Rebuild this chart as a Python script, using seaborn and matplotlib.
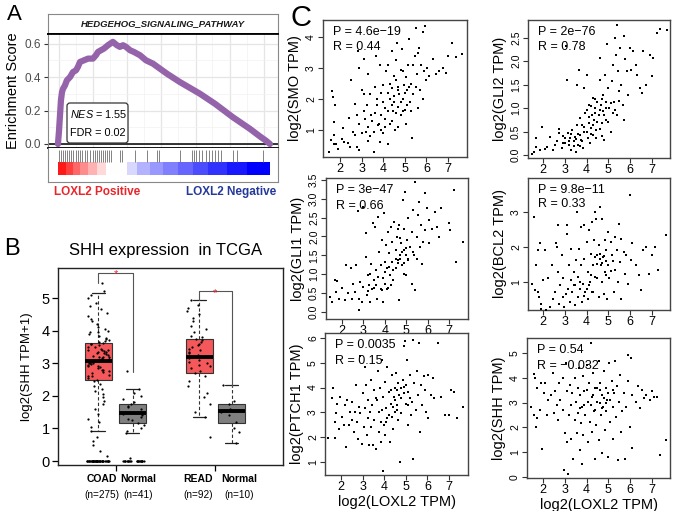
import numpy as np
import pandas as pd
import matplotlib
matplotlib.use("Agg")
import matplotlib.pyplot as plt
import seaborn as sns
from matplotlib.patches import FancyBboxPatch
import matplotlib.transforms as mtrans

# ---------------- DATA ----------------
# Panel A: GSEA running enrichment score (rank in % of ranked list)
es_rank = [0, 0.5, 0.9, 1.4, 1.9, 2.4, 3.3, 4.2, 5.7, 7.1, 8.5, 9.4, 10.4, 12.3, 14.2,
           16.5, 17.9, 18.9, 20.3, 21.7, 23.6, 25.9, 27.8, 29.2, 30.7, 32.1, 34.0,
           35.8, 38.7, 41.5, 44.8, 51.4, 57.5, 67.0, 74.1, 82.5, 90.6, 95.3, 98.1, 100]
es_score = [0.0, 0.08, 0.16, 0.26, 0.31, 0.33, 0.35, 0.38, 0.40, 0.43, 0.44, 0.46, 0.49,
            0.50, 0.51, 0.51, 0.53, 0.55, 0.56, 0.57, 0.59, 0.61, 0.59, 0.58, 0.59, 0.58,
            0.56, 0.55, 0.53, 0.50, 0.48, 0.42, 0.37, 0.30, 0.24, 0.16, 0.09, 0.045, 0.02, 0.0]
hit_rank = [0.5, 1.4, 2.4, 3.3, 4.2, 5.2, 6.1, 7.1, 8.5, 9.4, 10.4, 11.3, 12.7, 13.7, 15.1,
            16.5, 17.5, 18.4, 19.3, 20.3, 21.2, 22.2, 23.1, 24.1, 25.0, 29.2, 30.2, 36.3,
            42.0, 46.7, 47.6, 57.5, 63.2, 64.2, 65.1, 66.5, 67.9, 69.8, 71.2, 72.6, 74.1,
            75.5, 76.9, 82.5, 84.4, 96.7]
bar_edges = [0, 4, 7.2, 10.4, 14.3, 18.2, 22.6, 32.4, 37.1, 43.4, 49.7, 56.8, 63.8, 70.9,
             79.6, 89, 100]
bar_vals = [0.9, 0.75, 0.6, 0.45, 0.3, 0.15, 0.0, -0.15, -0.3, -0.4, -0.5, -0.6, -0.7,
            -0.8, -0.9, -1.0]
gsea_title = "HEDGEHOG_SIGNALING_PATHWAY"
nes_txt = "1.55"
fdr_txt = "0.02"

# Panel B: SHH expression box stats
box_groups = ["COAD", "COAD_N", "READ", "READ_N"]
box_labels = ["COAD", "Normal", "READ", "Normal"]
box_n = ["(n=275)", "(n=41)", "(n=92)", "(n=10)"]
box_whislo = [0.92, 0.86, 1.36, 0.54]
box_q1 = [2.50, 1.18, 2.69, 1.17]
box_med = [3.08, 1.48, 3.20, 1.53]
box_q3 = [3.62, 1.74, 3.74, 1.74]
box_whishi = [5.15, 2.21, 4.93, 2.32]

coad_vals = [0.0] * 45 + [0.15, 0.32, 0.5, 0.62, 0.75, 0.92, 1.05, 1.2, 1.3, 1.45, 1.6,
             1.75, 1.85, 1.95, 2.05, 2.15, 2.2, 2.3, 2.35, 2.45, 2.5, 2.55, 2.6, 2.65,
             2.7, 2.72, 2.78, 2.8, 2.85, 2.88, 2.92, 2.95, 2.98, 3.0, 3.02, 3.05, 3.08,
             3.1, 3.12, 3.15, 3.18, 3.2, 3.22, 3.25, 3.28, 3.3, 3.33, 3.35, 3.38, 3.4,
             3.42, 3.45, 3.5, 3.55, 3.58, 3.6, 3.62, 3.68, 3.72, 3.78, 3.85, 3.9, 3.95,
             4.0, 4.05, 4.12, 4.2, 4.28, 4.35, 4.45, 4.55, 4.65, 4.75, 4.85, 5.0, 5.1,
             5.2, 5.45, 2.9, 3.0, 3.1, 3.2, 3.3, 3.4, 3.5, 2.6, 2.75, 3.65, 3.75, 3.95]
coadn_vals = [0.0] * 22 + [0.08, 0.87, 0.92, 1.0, 1.1, 1.18, 1.25, 1.3, 1.35, 1.4, 1.45,
              1.5, 1.52, 1.6, 1.65, 1.7, 1.75, 1.8, 1.9, 2.0, 2.1, 2.2, 2.75]
read_vals = [0.75, 1.35, 1.5, 1.75, 1.95, 2.1, 2.3, 2.45, 2.6, 2.7, 2.75, 2.85, 2.9, 2.95,
             3.0, 3.05, 3.1, 3.15, 3.2, 3.25, 3.3, 3.35, 3.4, 3.45, 3.5, 3.55, 3.6, 3.65,
             3.7, 3.75, 3.8, 3.85, 3.95, 4.05, 4.15, 4.3, 4.4, 4.5, 4.6, 4.7, 4.8, 4.93]
readn_vals = [0.55, 0.9, 1.0, 1.2, 1.4, 1.5, 1.6, 1.75, 1.85, 2.32]

# Panel C: correlation scatter points (log2 LOXL2 TPM, log2 gene TPM)
smo_pts = [(1.5,0.3),(1.6,0.67),(1.7,0.55),(1.65,2.25),(1.66,2.05),(1.77,1.8),(1.7,1.25),
    (1.7,0.85),(1.8,0.55),(1.9,0.4),(2.1,0.7),(2.2,0.63),(2.15,1.05),(2.35,0.58),(2.45,0.45),
    (2.4,1.4),(2.5,2.6),(2.6,0.95),(2.7,0.85),(2.7,1.85),(2.8,1.5),(2.8,0.45),(2.9,3.0),
    (2.85,3.55),(2.9,0.35),(3.0,2.3),(3.1,2.15),(3.1,3.3),(3.2,0.95),(3.15,1.35),(3.25,1.8),
    (3.3,2.8),(3.3,0.65),(3.4,2.15),(3.45,1.5),(3.55,0.95),(3.55,0.3),(3.6,2.4),(3.65,3.4),
    (3.7,1.8),(3.75,1.15),(3.85,3.1),(3.85,0.6),(3.9,2.2),(3.9,1.5),(4.0,0.9),(4.0,2.45),
    (4.1,1.7),(4.1,1.35),(4.15,2.9),(4.2,3.1),(4.2,0.55),(4.3,2.0),(4.3,1.2),(4.4,3.55),
    (4.4,2.35),(4.45,1.6),(4.5,2.75),(4.5,1.9),(4.55,1.0),(4.6,3.25),(4.65,3.8),(4.7,2.4),
    (4.7,1.75),(4.75,2.15),(4.8,1.5),(4.8,2.95),(4.85,3.6),(4.9,2.0),(4.95,2.45),(5.0,1.65),
    (5.05,2.7),(5.05,1.2),(5.1,2.3),(5.15,3.1),(5.2,3.95),(5.25,1.9),(5.3,2.5),(5.35,0.75),
    (5.4,2.15),(5.45,3.4),(5.5,4.3),(5.55,2.8),(5.6,1.7),(5.65,3.65),(5.7,2.3),(5.75,3.1),
    (5.85,2.0),(5.9,2.9),(5.95,4.35),(5.85,4.15),(6.0,2.6),(6.05,3.0),(6.1,2.75),(6.3,3.3),
    (6.45,2.8),(6.6,2.9),(6.75,3.0),(6.9,2.85),(7.0,3.4),(7.2,3.8),(7.35,3.35),(7.65,3.45),
    (4.2,1.6),(4.4,1.8),(4.5,2.1),(4.6,1.55),(4.7,2.3),(4.8,1.9),(4.9,1.6),(5.0,2.2),
    (5.1,1.8),(4.3,2.5),(4.6,2.6),(3.8,1.2),(3.5,1.3),(3.9,1.0),(3.6,1.55),(3.3,1.1),
    (3.0,0.9),(3.1,1.6),(4.0,1.9),(4.2,2.2),(5.2,2.4),(5.3,1.6),(5.5,2.4),(4.4,1.3),
    (4.7,1.1),(3.7,2.0),(3.4,0.8),(2.9,1.2),(4.1,1.1),(4.9,2.9),(5.4,3.1),(5.6,3.5)]
gli2_pts = [(1.5,0.02),(1.6,0.07),(1.7,0.16),(1.7,0.36),(1.85,0.1),(1.95,0.59),(2.1,0.13),
    (2.2,0.18),(2.3,0.39),(2.45,0.11),(2.55,0.21),(2.65,0.29),(2.75,0.56),(2.75,0.46),
    (2.85,0.14),(2.9,0.25),(3.0,0.36),(3.05,2.33),(3.1,1.59),(3.15,0.46),(3.2,0.21),
    (3.25,0.36),(3.3,0.11),(3.35,0.54),(3.4,0.29),(3.45,0.39),(3.5,0.07),(3.55,1.5),
    (3.55,0.64),(3.6,0.21),(3.65,1.82),(3.7,0.43),(3.7,0.79),(3.75,0.32),(3.8,0.64),
    (3.85,0.14),(3.9,1.43),(3.9,0.5),(3.95,0.89),(4.0,1.71),(4.05,0.36),(4.1,0.68),
    (4.1,1.07),(4.15,0.25),(4.2,0.57),(4.25,0.86),(4.3,0.43),(4.3,1.21),(4.35,0.75),
    (4.4,1.0),(4.45,0.54),(4.45,0.36),(4.5,1.14),(4.55,0.86),(4.6,1.61),(4.6,2.07),
    (4.65,1.07),(4.7,0.68),(4.75,1.29),(4.75,0.93),(4.8,0.32),(4.85,1.71),(4.9,1.14),
    (4.9,0.75),(4.95,2.36),(5.0,1.43),(5.05,1.0),(5.1,0.5),(5.15,1.57),(5.2,1.93),
    (5.25,1.14),(5.3,2.5),(5.35,2.14),(5.4,2.77),(5.4,0.86),(5.45,1.79),(5.5,1.36),
    (5.55,2.29),(5.6,1.5),(5.65,1.07),(5.7,0.75),(5.7,2.54),(5.75,2.04),(5.85,1.79),
    (5.9,1.29),(6.0,2.29),(6.05,1.82),(6.15,2.21),(6.25,1.93),(6.3,1.71),(6.45,1.43),
    (6.55,1.32),(6.6,2.21),(6.75,1.5),(6.9,2.14),(7.0,1.68),(7.05,2.07),(7.25,2.61),
    (7.35,2.68),(7.7,2.66),
    (3.2,0.3),(3.4,0.2),(3.5,0.35),(3.6,0.45),(3.8,0.3),(3.9,0.6),(4.0,0.5),(4.1,0.8),
    (4.2,0.45),(4.3,0.65),(4.4,0.9),(4.5,0.7),(4.6,0.95),(4.6,0.55),(4.7,1.2),(4.8,0.85),
    (4.9,1.0),(5.0,0.7),(5.1,1.1),(5.2,0.9),(4.4,1.2),(4.7,0.4),(3.0,0.25),(2.9,0.4),
    (3.3,0.45),(3.7,0.2),(4.0,0.95),(4.2,1.05),(5.3,0.95),(5.5,1.15)]
gli1_pts = [(1.45,0.4),(1.55,0.27),(1.65,0.84),(1.7,0.53),(1.75,0.81),(1.85,0.35),(2.0,0.62),
    (2.15,0.31),(2.2,1.24),(2.3,0.49),(2.4,1.15),(2.45,0.35),(2.5,0.75),(2.6,0.53),
    (2.65,1.24),(2.75,2.67),(2.8,0.35),(2.8,0.04),(2.85,0.8),(2.95,0.27),(3.0,2.79),
    (3.1,2.08),(3.1,1.46),(3.15,0.44),(3.2,0.97),(3.25,0.71),(3.3,0.27),(3.35,1.28),
    (3.45,2.35),(3.5,0.84),(3.5,0.62),(3.55,2.26),(3.6,1.11),(3.65,0.35),(3.7,2.52),
    (3.7,0.93),(3.75,1.59),(3.8,1.24),(3.85,0.58),(3.85,1.9),(3.9,0.27),(3.95,2.61),
    (4.0,1.33),(4.0,0.75),(4.05,1.77),(4.1,1.15),(4.15,2.13),(4.15,0.62),(4.2,1.55),
    (4.25,0.97),(4.3,2.26),(4.35,1.33),(4.35,1.86),(4.4,0.84),(4.45,2.39),(4.5,1.64),
    (4.5,1.15),(4.55,1.99),(4.6,1.37),(4.65,0.31),(4.65,2.3),(4.7,1.5),(4.75,1.82),
    (4.8,1.24),(4.85,2.97),(4.9,2.21),(4.9,1.64),(4.95,3.19),(5.0,0.97),(5.05,1.9),
    (5.1,1.37),(5.1,2.48),(5.2,1.73),(5.25,0.75),(5.25,2.13),(5.3,2.7),(5.35,1.5),
    (5.4,3.45),(5.4,0.58),(5.5,1.99),(5.55,2.57),(5.6,2.92),(5.65,1.73),(5.7,2.3),
    (5.75,1.28),(5.8,1.86),(5.9,2.17),(5.9,3.14),(5.95,2.75),(6.05,1.82),(6.05,2.43),
    (6.2,2.21),(6.35,2.66),(6.45,2.26),(6.55,1.99),(6.65,2.75),(7.0,2.35),(7.05,2.17),
    (7.25,3.23),(7.35,1.33),(7.65,1.86),
    (4.6,1.3),(4.7,1.4),(4.8,1.6),(4.9,1.3),(5.0,1.5),(5.0,1.7),(5.1,1.4),(4.4,1.1),
    (4.5,1.4),(4.2,1.2),(4.0,1.05),(3.9,0.9),(3.6,0.7),(3.8,0.6),(4.3,0.7),(4.1,0.6),
    (3.4,0.6),(3.0,0.65),(3.2,0.55),(4.7,1.95),(4.6,2.2),(5.3,1.6),(5.5,1.4),(4.9,1.0),
    (3.3,1.0)]
bcl2_pts = [(1.5,0.95),(1.6,2.86),(1.65,0.76),(1.7,1.48),(1.75,0.71),(1.75,1.9),(1.8,0.57),
    (1.85,2.1),(1.9,0.38),(1.9,0.24),(2.0,1.05),(2.1,1.9),(2.15,0.19),(2.25,1.1),(2.3,0.29),
    (2.4,1.48),(2.45,0.52),(2.55,0.71),(2.6,2.1),(2.65,2.0),(2.7,2.64),(2.7,1.29),
    (2.75,0.38),(2.8,0.9),(2.85,1.76),(2.9,0.57),(2.9,1.1),(2.95,0.29),(3.05,0.67),
    (3.1,2.38),(3.1,2.62),(3.15,0.81),(3.2,1.48),(3.25,0.43),(3.3,1.05),(3.3,1.95),
    (3.35,0.71),(3.4,1.29),(3.45,0.33),(3.45,0.9),(3.5,1.62),(3.55,3.0),(3.6,0.57),
    (3.6,1.14),(3.65,1.95),(3.7,0.81),(3.75,1.48),(3.75,2.57),(3.8,0.43),(3.85,0.95),
    (3.9,2.62),(3.9,1.67),(3.95,0.71),(4.0,2.14),(4.05,1.29),(4.05,0.52),(4.1,2.48),
    (4.15,1.0),(4.2,1.81),(4.25,2.71),(4.25,0.71),(4.3,1.48),(4.35,2.19),(4.4,3.0),
    (4.4,1.14),(4.45,2.81),(4.5,1.76),(4.55,0.57),(4.55,2.05),(4.6,3.14),(4.65,1.48),
    (4.7,1.0),(4.7,2.81),(4.75,1.71),(4.8,0.67),(4.85,2.19),(4.85,1.29),(4.9,1.9),
    (4.95,0.52),(5.0,1.48),(5.0,2.43),(5.05,1.1),(5.1,2.14),(5.15,1.76),(5.25,0.71),
    (5.3,2.29),(5.3,1.33),(5.4,1.9),(5.45,1.0),(5.5,2.67),(5.55,1.57),(5.6,2.24),
    (5.6,0.52),(5.7,1.86),(5.75,1.24),(5.8,1.76),(5.9,0.95),(6.0,3.48),(6.05,1.62),
    (6.1,2.1),(6.25,1.48),(6.4,1.19),(6.5,0.76),(6.6,1.9),(6.75,2.0),(6.85,1.24),
    (7.0,1.76),(7.15,2.0),(7.3,1.33),(7.65,2.33),
    (4.5,1.5),(4.6,1.65),(4.7,1.55),(4.8,1.75),(4.9,1.6),(4.6,1.8),(4.4,1.7),(4.2,1.2),
    (4.0,0.8),(3.9,0.6),(4.1,0.9),(4.3,0.7),(4.5,1.1),(4.9,1.2),(5.1,1.3),(5.2,1.6),
    (3.7,1.0),(3.4,0.9)]
ptch1_pts = [(1.4,1.97),(1.65,4.0),(1.6,3.57),(1.7,1.97),(1.7,2.62),(1.75,2.96),(1.8,3.36),
    (1.9,2.35),(1.95,3.64),(2.05,2.82),(2.15,2.49),(2.2,3.3),(2.25,1.61),(2.3,3.5),
    (2.35,2.49),(2.4,3.03),(2.5,2.69),(2.5,3.43),(2.6,2.22),(2.65,3.03),(2.7,4.11),
    (2.75,2.62),(2.8,1.95),(2.85,3.23),(2.9,5.26),(2.9,2.96),(2.95,1.74),(3.0,3.77),
    (3.05,2.42),(3.1,4.85),(3.1,3.16),(3.15,4.11),(3.2,2.08),(3.25,2.76),(3.25,3.5),
    (3.3,1.68),(3.35,3.03),(3.4,4.31),(3.4,2.42),(3.45,3.3),(3.5,1.68),(3.55,3.91),
    (3.55,2.69),(3.6,1.54),(3.65,3.5),(3.7,4.65),(3.75,2.22),(3.75,3.03),(3.8,3.97),
    (3.85,1.81),(3.85,2.62),(3.9,5.12),(3.95,0.66),(3.95,3.64),(4.0,2.49),(4.05,4.24),
    (4.05,2.08),(4.1,3.16),(4.15,4.85),(4.15,2.76),(4.2,3.84),(4.25,1.81),(4.3,3.36),
    (4.35,2.82),(4.35,4.51),(4.4,2.35),(4.45,3.64),(4.5,3.97),(4.5,3.03),(4.55,4.58),
    (4.6,3.3),(4.65,2.69),(4.65,4.17),(4.75,1.0),(4.8,3.57),(4.8,2.96),(4.85,4.31),
    (4.9,5.66),(4.9,4.04),(4.95,5.86),(5.0,3.36),(5.05,5.12),(5.1,2.49),(5.1,3.84),
    (5.2,4.51),(5.25,2.89),(5.3,3.43),(5.35,1.14),(5.35,5.93),(5.4,4.17),(5.45,3.09),
    (5.5,4.65),(5.55,3.7),(5.6,5.8),(5.65,2.22),(5.7,4.11),(5.75,3.3),(5.85,4.45),
    (5.9,3.91),(5.95,3.03),(6.05,4.51),(6.05,2.76),(6.15,3.7),(6.25,4.38),(6.3,3.57),
    (6.5,5.8),(6.65,3.64),(6.8,2.89),(7.0,2.89),(7.1,3.91),(7.25,3.84),(7.35,2.76),
    (7.65,3.23),
    (4.6,3.9),(4.7,3.7),(4.8,4.0),(4.9,3.8),(5.0,4.1),(4.5,3.5),(4.4,3.2),(4.2,2.9),
    (4.1,2.6),(4.6,3.1),(5.1,3.3),(3.9,3.1),(3.6,3.6),(4.3,3.9),(5.2,3.6)]
shh_pts = [(1.45,2.84),(1.6,4.15),(1.6,2.5),(1.65,3.99),(1.7,2.03),(1.75,2.36),(1.75,3.58),
    (1.85,2.7),(1.9,3.78),(1.95,1.12),(2.05,3.38),(2.1,3.78),(2.2,2.5),(2.25,3.11),
    (2.35,3.31),(2.45,4.19),(2.5,2.57),(2.55,3.45),(2.65,2.91),(2.7,2.3),(2.75,3.78),
    (2.8,3.11),(2.9,2.7),(2.9,3.99),(2.95,0.27),(3.0,1.76),(3.05,4.59),(3.1,3.45),
    (3.1,1.42),(3.15,0.14),(3.2,2.5),(3.25,3.72),(3.3,2.91),(3.3,1.55),(3.35,3.38),
    (3.4,0.74),(3.45,2.3),(3.45,3.99),(3.5,3.04),(3.55,1.76),(3.6,3.58),(3.6,2.57),
    (3.65,4.39),(3.7,3.31),(3.7,1.08),(3.75,2.16),(3.8,2.84),(3.8,0.54),(3.85,4.05),
    (3.85,1.69),(3.9,3.45),(3.95,2.5),(4.0,4.53),(4.05,3.04),(4.05,1.42),(4.1,3.78),
    (4.15,2.23),(4.2,5.4),(4.25,3.24),(4.25,1.82),(4.3,4.19),(4.35,2.64),(4.4,0.74),
    (4.4,3.58),(4.45,2.09),(4.5,3.04),(4.55,4.66),(4.55,1.49),(4.6,3.78),(4.65,2.5),
    (4.7,3.31),(4.7,0.95),(4.75,2.84),(4.8,4.26),(4.85,1.89),(4.9,3.58),(4.9,2.64),
    (4.95,3.11),(5.0,0.81),(5.05,4.59),(5.1,2.23),(5.15,3.85),(5.2,2.84),(5.2,1.55),
    (5.25,3.38),(5.3,4.66),(5.35,2.43),(5.4,3.65),(5.45,0.68),(5.5,3.04),(5.55,4.12),
    (5.6,1.82),(5.65,2.64),(5.7,3.38),(5.75,0.74),(5.8,2.84),(5.9,3.85),(5.9,4.93),
    (6.0,2.03),(6.05,4.8),(6.1,1.15),(6.1,3.31),(6.25,3.04),(6.35,3.65),(6.45,2.77),
    (6.55,3.51),(6.65,3.18),(6.75,3.31),(6.9,3.11),(7.0,3.45),(7.1,3.24),(7.25,3.24),
    (7.35,0.88),(7.65,1.49),
    (4.6,3.0),(4.7,2.8),(4.8,3.2),(4.9,3.0),(5.0,3.4),(4.5,3.6),(4.4,2.7),(4.3,3.3),
    (4.2,2.9),(4.0,3.5),(3.9,2.9),(3.7,2.8),(5.1,3.1),(5.2,3.5),(4.6,3.5)]

# ---------------- STYLE / FIGURE ----------------
sns.set_theme(style="white", rc={'text.color': 'black', 'axes.labelcolor': 'black',
                                 'xtick.color': 'black', 'ytick.color': 'black'})
plt.rcParams['font.family'] = ['Liberation Sans', 'DejaVu Sans']
plt.rcParams['mathtext.fontset'] = 'custom'
plt.rcParams['mathtext.it'] = 'Liberation Sans:italic'
plt.rcParams['mathtext.rm'] = 'Liberation Sans'
plt.rcParams['axes.unicode_minus'] = True

W, H = 674, 511
fig = plt.figure(figsize=(W / 100, H / 100), dpi=100)
fig.patch.set_facecolor('white')


def px_axes(l, t, r, b):
    return fig.add_axes([l / W, 1 - b / H, (r - l) / W, (b - t) / H])


def fig_text(x, y, s, **kw):
    fig.text(x / W, 1 - y / H, s, **kw)


# ---------------- PANEL A ----------------
XL = (-4.7, 103.8)
ax_strip = px_axes(48, 14, 278, 34)
ax_strip.set_xticks([]); ax_strip.set_yticks([])
ax_strip.text(0.5, 0.5, gsea_title, transform=ax_strip.transAxes, ha='center', va='center',
              fontsize=6.8, fontweight='bold', fontstyle='italic', color='#1A1A1A')
for s in ax_strip.spines.values():
    s.set_color('#888888'); s.set_linewidth(0.8)
ax_strip.spines['bottom'].set_color('black'); ax_strip.spines['bottom'].set_linewidth(1.3)

ax_es = px_axes(48, 34, 278, 148)
sns.lineplot(x=es_rank, y=es_score, ax=ax_es, color='#9563AA', linewidth=4.5,
             solid_capstyle='round', solid_joinstyle='round', zorder=3)
ax_es.set_xlim(*XL)
ax_es.set_ylim(-0.024, 0.657)
ax_es.axhline(0, color='black', lw=1.1, zorder=2)
ax_es.set_xticks(np.arange(0.5, 101, 16.1))
ax_es.set_xticks(np.arange(8.5, 101, 16.1), minor=True)
ax_es.set_yticks([0, 0.2, 0.4, 0.6])
ax_es.set_yticklabels(['0.0', '0.2', '0.4', '0.6'])
ax_es.set_yticks([0.1, 0.3, 0.5], minor=True)
ax_es.grid(which='major', color='#E5E5E5', lw=0.9)
ax_es.grid(which='minor', color='#F2F2F2', lw=0.5)
ax_es.tick_params(axis='x', which='both', length=0, labelbottom=False)
ax_es.tick_params(axis='y', which='major', length=3, width=0.8, color='#333333',
                  labelsize=8.5, labelcolor='#4D4D4D', pad=2, left=True)
ax_es.tick_params(axis='y', which='minor', length=0)
ax_es.set_ylabel('Enrichment Score', fontsize=10.5, color='black', labelpad=3)
ax_es.set_xlabel('')
for k, s in ax_es.spines.items():
    s.set_color('#888888'); s.set_linewidth(0.8)
ax_es.spines['top'].set_color('black'); ax_es.spines['top'].set_linewidth(1.3)
ax_es.spines['bottom'].set_color('black'); ax_es.spines['bottom'].set_linewidth(1.3)

# NES / FDR annotation box (pixel placement)
nes_box = FancyBboxPatch((67, H - 143), 61, 40, boxstyle='round,pad=0,rounding_size=3',
                         transform=mtrans.IdentityTransform(), fc='white', ec='#333333',
                         lw=0.9, zorder=6)
fig.patches.append(nes_box)
fig_text(70, 114, r'$\it{NES}$ = ' + nes_txt, fontsize=7.8, ha='left', va='center', zorder=7)
fig_text(70, 133, 'FDR = ' + fdr_txt, fontsize=7.8, ha='left', va='center', zorder=7)

ax_bar = px_axes(48, 148, 278, 182)
ax_bar.set_xlim(*XL); ax_bar.set_ylim(0, 1)
ax_bar.vlines(hit_rank, 0.6, 0.94, color='#6E6E6E', lw=0.6)
ax_bar.pcolormesh(bar_edges, [0.21, 0.59], np.array([bar_vals]), cmap='bwr', vmin=-1, vmax=1,
                  shading='flat')
ax_bar.set_xticks([]); ax_bar.set_yticks([])
for k, s in ax_bar.spines.items():
    s.set_color('#888888'); s.set_linewidth(0.8)
ax_bar.spines['top'].set_visible(False)

fig_text(97, 192, 'LOXL2 Positive', color='#E8262B', fontsize=8.5, fontweight='bold',
         ha='center', va='center')
fig_text(231, 192, 'LOXL2 Negative', color='#24399A', fontsize=8.5, fontweight='bold',
         ha='center', va='center')
fig_text(7, 14, 'A', fontsize=16, ha='left', va='center')

# ---------------- PANEL B ----------------
pos_map = {"COAD": -0.18, "COAD_N": 0.17, "READ": 0.84, "READ_N": 1.17}
label_x = [-0.14, 0.22, 0.83, 1.24]
box_colors = ['#F4585A', '#7F7F7F', '#F4585A', '#7F7F7F']

ax_b = px_axes(58, 268, 283, 465)
stats = []
for i, g in enumerate(box_groups):
    stats.append(dict(med=box_med[i], q1=box_q1[i], q3=box_q3[i], whislo=box_whislo[i],
                      whishi=box_whishi[i], fliers=[]))
bp = ax_b.bxp(stats, positions=[pos_map[g] for g in box_groups], widths=0.27,
              patch_artist=True, showfliers=False, capwidths=0.13, manage_ticks=False,
              boxprops=dict(linewidth=0.8, edgecolor='#333333'),
              whiskerprops=dict(linestyle=(0, (3, 2)), linewidth=0.8, color='#333333'),
              capprops=dict(linewidth=0.9, color='#222222'),
              medianprops=dict(color='black', linewidth=2.8))
for patch, c in zip(bp['boxes'], box_colors):
    patch.set_facecolor(c)

df_b = pd.DataFrame({
    'group': ['COAD'] * len(coad_vals) + ['COAD_N'] * len(coadn_vals) +
             ['READ'] * len(read_vals) + ['READ_N'] * len(readn_vals),
    'val': coad_vals + coadn_vals + read_vals + readn_vals})
df_b['pos'] = df_b['group'].map(pos_map)
np.random.seed(3)
sns.stripplot(data=df_b, x='pos', y='val', native_scale=True, jitter=0.36, size=1.6,
              color='black', linewidth=0, ax=ax_b, zorder=4)

# significance brackets
for (x0, x1, ylo, ytop, yr, xs) in [(-0.18, 0.17, 5.46, 5.77, 2.73, 0.0),
                                    (0.84, 1.17, 4.94, 5.21, 2.27, 1.0)]:
    ax_b.plot([x0, x0, x1, x1], [ylo, ytop, ytop, yr], color='#555555', lw=0.8, zorder=5)
    ax_b.text(xs, ytop - 0.05, '*', color='#E8262B', fontsize=8, ha='center', va='center',
              zorder=6)

ax_b.set_xlim(-0.586, 1.687)
ax_b.set_ylim(-0.12, 5.92)
ax_b.set_xticks([0, 1]); ax_b.set_xticklabels([])
ax_b.set_yticks([0, 1, 2, 3, 4, 5])
ax_b.tick_params(axis='both', direction='out', length=4, width=0.9, color='black',
                 bottom=True, left=True, labelsize=10.5, pad=2)
ax_b.set_xlabel('')
ax_b.set_ylabel('log2(SHH TPM+1)', fontsize=9.5, labelpad=6)
for s in ax_b.spines.values():
    s.set_color('#222222'); s.set_linewidth(1.0)
tr = mtrans.blended_transform_factory(ax_b.transData, fig.transFigure)
for i in range(4):
    ax_b.text(label_x[i], 1 - 479 / H, box_labels[i], transform=tr, fontsize=7.5,
              fontweight='bold', ha='center', va='center')
    ax_b.text(label_x[i], 1 - 495 / H, box_n[i], transform=tr, fontsize=7.2,
              ha='center', va='center')
fig_text(166, 250, 'SHH expression  in TCGA', fontsize=12, ha='center', va='center')
fig_text(4, 249, 'B', fontsize=17, ha='left', va='center')

# ---------------- PANEL C ----------------
def scatter_panel(box, pts, xlim, ylim, yticks, ylabels, ylabel, ptxt, rtxt, xlabel=False):
    ax = px_axes(*box)
    df = pd.DataFrame(pts, columns=['loxl2', 'gene'])
    sns.scatterplot(data=df, x='loxl2', y='gene', ax=ax, s=3.5, color='black',
                    linewidth=0, marker='s', zorder=3)
    ax.set_xlim(*xlim); ax.set_ylim(*ylim)
    ax.set_xticks([2, 3, 4, 5, 6, 7])
    ax.set_yticks(yticks)
    ax.set_yticklabels(ylabels, rotation=90, va='center')
    ax.tick_params(axis='x', direction='out', length=3.5, width=0.8, color='#333333',
                   labelsize=9, pad=1, bottom=True)
    ax.tick_params(axis='y', direction='out', length=3.5, width=0.8, color='#333333',
                   labelsize=7.5, pad=1.5, left=True)
    ax.set_ylabel(ylabel, fontsize=10.5, labelpad=3)
    ax.set_xlabel('log2(LOXL2 TPM)' if xlabel else '', fontsize=10.5, labelpad=1)
    for s in ax.spines.values():
        s.set_color('#444444'); s.set_linewidth(1.0)
    ax.text(0.07, 0.955, ptxt, transform=ax.transAxes, fontsize=9, va='top', ha='left')
    ax.text(0.07, 0.845, rtxt, transform=ax.transAxes, fontsize=9, va='top', ha='left')
    return ax


scatter_panel((323, 20, 467, 157), smo_pts, (1.21, 7.88), (0.13, 4.55), [1, 2, 3, 4],
              ['1', '2', '3', '4'], 'log2(SMO TPM)', 'P = 4.6e\u221219', 'R = 0.44')
scatter_panel((528, 20, 670, 158), gli2_pts, (1.31, 7.83), (-0.064, 2.88),
              [0, 0.5, 1, 1.5, 2, 2.5], ['0.0', '0.5', '1.0', '1.5', '2.0', '2.5'],
              'log2(GLI2 TPM)', 'P = 2e\u221276', 'R = 0.78')
scatter_panel((326, 178, 468, 319), gli1_pts, (1.25, 7.89), (-0.19, 3.55),
              [0, 0.5, 1, 1.5, 2, 2.5, 3, 3.5],
              ['0.0', '0.5', '1.0', '1.5', '2.0', '2.5', '3.0', '3.5'],
              'log2(GLI1 TPM)', 'P = 3e\u221247', 'R = 0.66')
scatter_panel((528, 178, 670, 310), bcl2_pts, (1.31, 7.83), (0.2, 3.97), [1, 2, 3],
              ['1', '2', '3'], 'log2(BCL2 TPM)', 'P = 9.8e\u221211', 'R = 0.33')
scatter_panel((325, 333, 468, 475), ptch1_pts, (1.26, 7.88), (0.48, 6.2), [1, 2, 3, 4, 5, 6],
              ['1', '2', '3', '4', '5', '6'], 'log2(PTCH1 TPM)', 'P = 0.0035', 'R = 0.15',
              xlabel=True)
scatter_panel((527, 338, 670, 478), shh_pts, (1.27, 7.83), (-0.04, 5.6), [0, 1, 2, 3, 4, 5],
              ['0', '1', '2', '3', '4', '5'], 'log2(SHH TPM)', 'P = 0.54', 'R = \u22120.032',
              xlabel=True)
fig_text(291, 18, 'C', fontsize=21, ha='left', va='center')

fig.savefig('out.png', dpi=100, facecolor='white')
